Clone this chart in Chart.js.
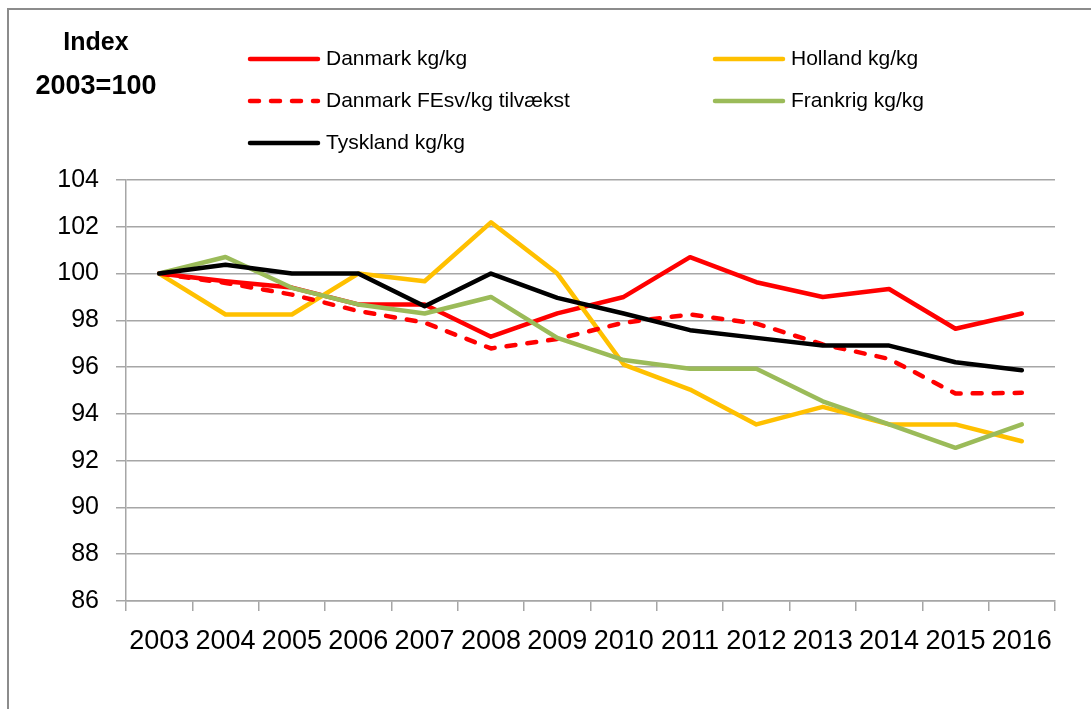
<!DOCTYPE html>
<html>
<head>
<meta charset="utf-8">
<script src="https://cdn.jsdelivr.net/npm/chart.js@4.4.1/dist/chart.umd.min.js"></script>
<style>
html, body { margin: 0; padding: 0; background: #fff; overflow: hidden; }
#wrap { position: relative; width: 1091px; height: 709px; }
#frame { position: absolute; left: 7px; top: 8px; width: 1200px; height: 800px;
  border-top: 2px solid #8c8c8c; border-left: 2px solid #8c8c8c; }
canvas { position: absolute; left: 0; top: 0; }
</style>
</head>
<body>
<div id="wrap">
  <div id="frame"></div>
  <canvas id="chart" width="1091" height="709"></canvas>
</div>
<script>
// index values, 2003 = 100
var years = ['2003', '2004', '2005', '2006', '2007', '2008', '2009', '2010', '2011', '2012', '2013', '2014', '2015', '2016']
var danmarkKg = [100, 99.67, 99.4, 98.68, 98.68, 97.3, 98.3, 99.0, 100.7, 99.63, 99.0, 99.34, 97.64, 98.29]
var hollandKg = [100, 98.25, 98.25, 100, 99.67, 102.19, 100, 96.11, 95.04, 93.55, 94.3, 93.55, 93.55, 92.83]
var danmarkFe = [100, 99.6, 99.1, 98.4, 97.9, 96.8, 97.2, 97.9, 98.25, 97.86, 96.97, 96.35, 94.87, 94.9]
var frankrigKg = [100, 100.71, 99.39, 98.68, 98.29, 99.0, 97.25, 96.3, 95.93, 95.93, 94.54, 93.55, 92.55, 93.55]
var tysklandKg = [100, 100.38, 100, 100, 98.6, 100, 98.96, 98.29, 97.58, 97.25, 96.92, 96.92, 96.21, 95.87]
var yTicks = [86, 88, 90, 92, 94, 96, 98, 100, 102, 104]

var series = [
    { label: 'Danmark kg/kg', data: danmarkKg, color: '#ff0000', dash: [] },
    { label: 'Holland kg/kg', data: hollandKg, color: '#ffc000', dash: [] },
    { label: 'Danmark FEsv/kg tilvækst', data: danmarkFe, color: '#ff0000', dash: [9, 12] },
    { label: 'Frankrig kg/kg', data: frankrigKg, color: '#9bbb59', dash: [] },
    { label: 'Tyskland kg/kg', data: tysklandKg, color: '#000000', dash: [] }
]

var FONT = "'Liberation Sans', Arial, sans-serif"
var GRID = '#a6a6a6'

// legend in two columns, filled row by row like the original
var legendPlugin = {
    id: 'excelLegend',
    afterDraw: function (chart) {
        var ctx = chart.ctx
        var colX = [248, 713]
        var rowY = [59, 101, 143]
        ctx.save()
        chart.data.datasets.forEach(function (ds, i) {
            var x = colX[i % 2]
            var y = rowY[Math.floor(i / 2)]
            ctx.strokeStyle = ds.borderColor
            ctx.lineWidth = 4.5
            ctx.lineCap = 'round'
            ctx.setLineDash(ds.borderDash || [])
            ctx.beginPath()
            ctx.moveTo(x + 2, y)
            ctx.lineTo(x + 70, y)
            ctx.stroke()
            ctx.setLineDash([])
            ctx.fillStyle = '#000'
            ctx.font = '21px ' + FONT
            ctx.textAlign = 'left'
            ctx.textBaseline = 'middle'
            ctx.fillText(ds.label, x + 78, y)
        })
        // axis title
        ctx.textAlign = 'center'
        ctx.font = 'bold 25px ' + FONT
        ctx.fillText('Index', 96, 43)
        ctx.font = 'bold 27px ' + FONT
        ctx.fillText('2003=100', 96, 87)
        ctx.restore()
    }
}

var ctx = document.getElementById('chart').getContext('2d')
var chart = new Chart(ctx, {
    type: 'line',
    data: {
        labels: years,
        datasets: series.map(function (s, i) {
            return {
                label: s.label,
                data: s.data,
                borderColor: s.color,
                backgroundColor: s.color,
                borderWidth: 4.5,
                borderDash: s.dash,
                borderCapStyle: 'round',
                borderJoinStyle: 'round',
                pointRadius: 0,
                tension: 0,
                fill: false,
                order: series.length - i
            }
        })
    },
    options: {
        responsive: false,
        animation: false,
        layout: { padding: { top: 180, right: 36, left: 0, bottom: 0 } },
        plugins: {
            legend: { display: false },
            tooltip: { enabled: false }
        },
        scales: {
            x: {
                offset: true,
                grid: { offset: true, drawOnChartArea: false, drawTicks: true, tickLength: 10, color: GRID, lineWidth: 1.5 },
                border: { color: GRID, width: 1.5 },
                ticks: { autoSkip: false, maxRotation: 0, color: '#000', padding: 14, font: { family: FONT, size: 27 } },
                afterFit: function (scale) { scale.height = 108 }
            },
            y: {
                min: 86,
                max: 104,
                afterBuildTicks: function (scale) {
                    scale.ticks = yTicks.map(function (v) { return { value: v } })
                },
                grid: { color: GRID, lineWidth: 1.5, drawTicks: true, tickLength: 10 },
                border: { color: GRID, width: 1.5 },
                ticks: { color: '#000', padding: 17, font: { family: FONT, size: 25 } },
                afterFit: function (scale) { scale.width = 126 }
            }
        }
    },
    plugins: [legendPlugin]
})
</script>
</body>
</html>
